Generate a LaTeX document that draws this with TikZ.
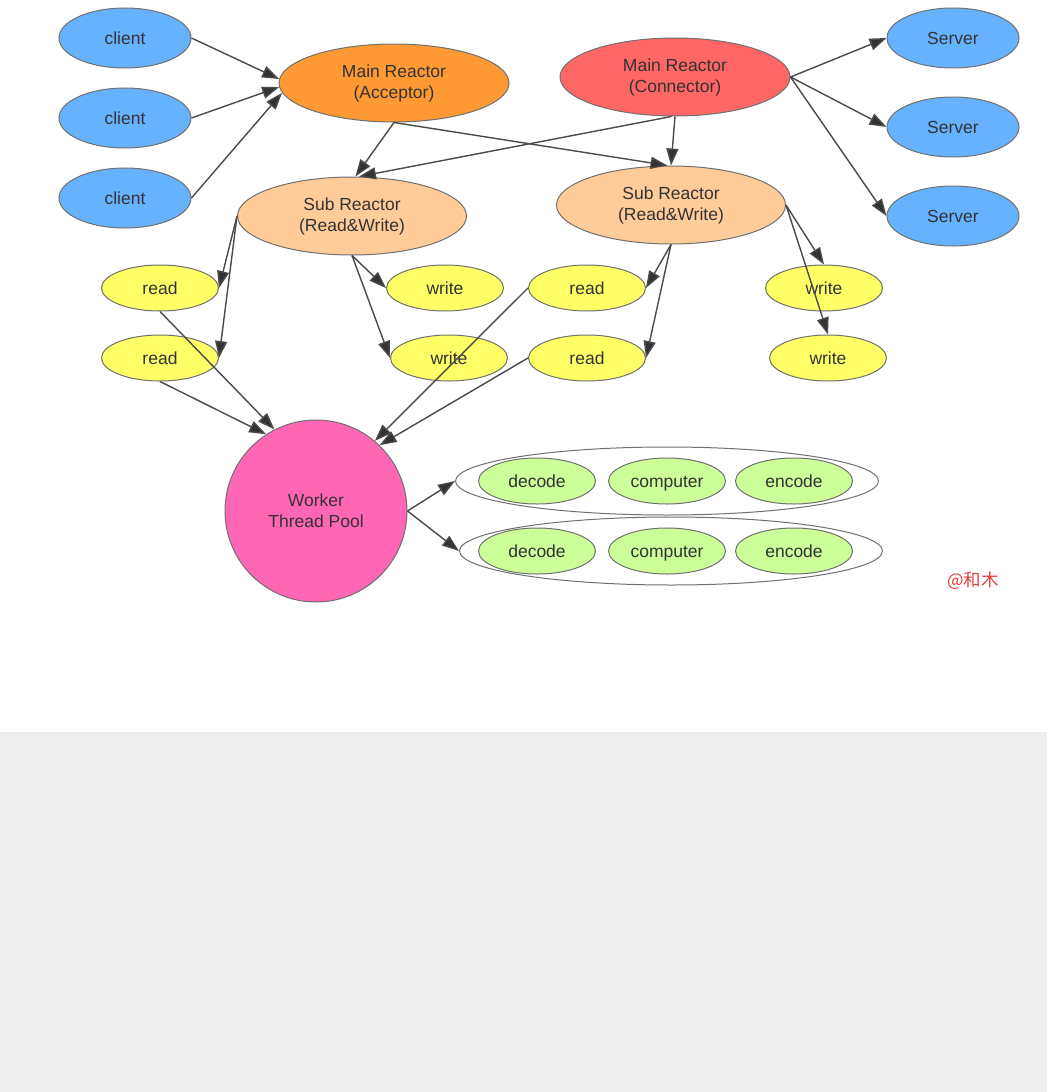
\documentclass[tikz,border=0pt]{standalone}
\usepackage{fontspec}
\setmainfont{Liberation Sans}
\newfontfamily\cjk{Noto Sans CJK SC}
\usetikzlibrary{shapes.geometric,arrows.meta}
\definecolor{cblue}{HTML}{66B2FF}
\definecolor{corange}{HTML}{FF9933}
\definecolor{cred}{HTML}{FF6666}
\definecolor{cpeach}{HTML}{FFCC99}
\definecolor{cyellow}{HTML}{FFFF66}
\definecolor{cpink}{HTML}{FF66B3}
\definecolor{cgreen}{HTML}{CCFF99}
\definecolor{cborder}{HTML}{707070}
\definecolor{cline}{HTML}{4A4A4A}
\definecolor{ctext}{HTML}{333333}
\definecolor{cbg}{HTML}{EEEEEE}
\definecolor{csign}{HTML}{E5403D}
\tikzset{
  ell/.style={ellipse, draw=cborder, line width=1pt, inner sep=0pt, text=ctext,
    font=\fontsize{17.5}{21}\selectfont, align=center},
  clientbox/.style={ell, fill=cblue, minimum width=132pt, minimum height=60pt},
  mainbox/.style={ell, minimum width=230pt, minimum height=78pt},
  subbox/.style={ell, fill=cpeach, minimum width=229pt, minimum height=78pt},
  rwbox/.style={ell, fill=cyellow, minimum width=117pt, minimum height=46pt},
  taskbox/.style={ell, fill=cgreen, minimum width=117pt, minimum height=46pt,
    text height=12.7pt, text depth=0pt},
  groupbox/.style={ellipse, draw=cborder, line width=1pt, fill=white, inner sep=0pt,
    minimum width=423pt, minimum height=68pt},
  arr/.style={draw=cline, line width=1.4pt, -{Triangle[length=17pt,width=12pt,fill=ctext]}},
}
\begin{document}
\begin{tikzpicture}[x=1pt,y=-1pt]
\useasboundingbox (0,0) rectangle (1047,1092);
\fill[white] (0,0) rectangle (1047,732);
\fill[cbg] (0,732) rectangle (1047,1092);

% clients
\node[clientbox] (c1) at (125,38) {client};
\node[clientbox] (c2) at (125,118) {client};
\node[clientbox] (c3) at (125,198) {client};
% servers
\node[clientbox] (s1) at (953,38) {Server};
\node[clientbox] (s2) at (953,127) {Server};
\node[clientbox] (s3) at (953,216) {Server};
% main reactors
\node[mainbox, fill=corange] (acc) at (394,83) {Main Reactor\\(Acceptor)};
\node[mainbox, fill=cred] (con) at (675,77) {Main Reactor\\(Connector)};
% sub reactors
\node[subbox] (sl) at (352,216) {Sub Reactor\\(Read\&Write)};
\node[subbox] (sr) at (671,205) {Sub Reactor\\(Read\&Write)};
% read / write
\node[rwbox] (rl1) at (160,288) {read};
\node[rwbox] (rl2) at (160,358) {read};
\node[rwbox] (wl1) at (445,288) {write};
\node[rwbox] (wl2) at (449,358) {write};
\node[rwbox] (rr1) at (587,288) {read};
\node[rwbox] (rr2) at (587,358) {read};
\node[rwbox] (wr1) at (824,288) {write};
\node[rwbox] (wr2) at (828,358) {write};
% worker
\node[ell, circle, fill=cpink, minimum size=182pt] (w) at (316,511) {Worker\\Thread Pool};
% groups
\node[groupbox] (g1) at (667,481) {};
\node[groupbox] (g2) at (671,551) {};
\node[taskbox] (d1) at (537,481) {decode};
\node[taskbox] (p1) at (667,481) {computer};
\node[taskbox] (e1) at (794,481) {encode};
\node[taskbox] (d2) at (537,551) {decode};
\node[taskbox] (p2) at (667,551) {computer};
\node[taskbox] (e2) at (794,551) {encode};
% signature
\node[text=csign, font=\cjk\fontsize{17.5}{21}\selectfont, inner sep=0pt] (sig) at (973,581) {@和木};

% edges
\draw[arr] (c1.east) -- (acc.178);
\draw[arr] (c2.east) -- (acc.182);
\draw[arr] (c3.east) -- (acc.185);
\draw[arr] (con.east) -- (s1.west);
\draw[arr] (con.east) -- (s2.west);
\draw[arr] (con.east) -- (s3.west);
\draw[arr] (acc.south) -- (sl.85);
\draw[arr] (acc.south) -- (sr.95);
\draw[arr] (con.265) -- (sl.80);
\draw[arr] (con.south) -- (sr.north);
\draw[arr] (sl.west) -- (rl1.east);
\draw[arr] (sl.west) -- (rl2.east);
\draw[arr] (sl.south) -- (wl1.west);
\draw[arr] (sl.south) -- (wl2.west);
\draw[arr] (sr.south) -- (rr1.east);
\draw[arr] (sr.south) -- (rr2.east);
\draw[arr] (sr.east) -- (wr1.north);
\draw[arr] (sr.east) -- (wr2.north);
\draw[arr] (rl1.south) -- (w.117);
\draw[arr] (rl2.south) -- (w.123);
\draw[arr] (rr1.west) -- (w.50);
\draw[arr] (rr2.west) -- (w.46);
\draw[arr] (w.east) -- (g1.west);
\draw[arr] (w.east) -- (g2.west);
\end{tikzpicture}
\end{document}
